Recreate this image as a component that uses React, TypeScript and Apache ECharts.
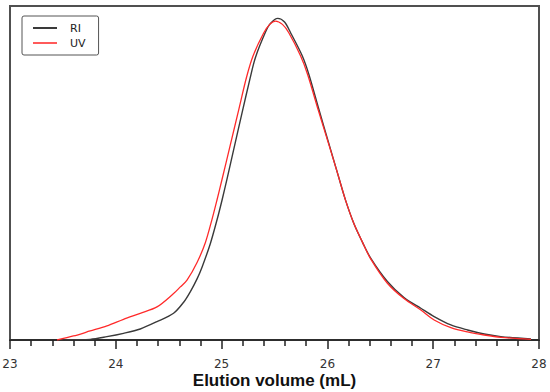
import React, { useEffect, useRef } from "react";
import * as echarts from "echarts";

const riVolume = [
  23.445, 23.616, 23.758, 23.916, 24.073, 24.231, 24.389, 24.546, 24.641, 24.705,
  24.768, 24.815, 24.894, 24.957, 25.005, 25.052, 25.112, 25.197, 25.268, 25.320,
  25.415, 25.462, 25.531, 25.595, 25.652, 25.762, 25.825, 25.920, 26.014, 26.097,
  26.172, 26.251, 26.331, 26.409, 26.567, 26.724, 26.883, 27.009, 27.167, 27.325,
  27.482, 27.640, 27.924,
];
const riSignal = [
  0.0, 0.001, 0.002, 0.010, 0.020, 0.033, 0.055, 0.080, 0.113, 0.145,
  0.183, 0.218, 0.289, 0.360, 0.420, 0.483, 0.567, 0.685, 0.782, 0.846,
  0.922, 0.948, 0.963, 0.952, 0.920, 0.851, 0.795, 0.690, 0.588, 0.498,
  0.418, 0.348, 0.293, 0.245, 0.175, 0.127, 0.095, 0.070, 0.045, 0.030,
  0.018, 0.010, 0.003,
];

const uvVolume = [
  23.445, 23.599, 23.758, 23.916, 24.073, 24.231, 24.389, 24.546, 24.610, 24.673,
  24.768, 24.847, 24.910, 24.957, 25.005, 25.083, 25.164, 25.235, 25.298, 25.399,
  25.455, 25.509, 25.575, 25.635, 25.746, 25.813, 25.912, 26.011, 26.097, 26.172,
  26.251, 26.331, 26.409, 26.567, 26.724, 26.883, 27.009, 27.167, 27.325, 27.482,
  27.640, 27.924,
];
const uvSignal = [
  0.0, 0.012, 0.027, 0.042, 0.062, 0.080, 0.099, 0.139, 0.159, 0.179,
  0.232, 0.292, 0.362, 0.420, 0.482, 0.585, 0.692, 0.786, 0.851, 0.920,
  0.945, 0.955, 0.945, 0.920, 0.851, 0.795, 0.690, 0.588, 0.498, 0.418,
  0.348, 0.293, 0.243, 0.170, 0.124, 0.090, 0.060, 0.037, 0.024, 0.015,
  0.008, 0.002,
];

const seriesNames = ["RI", "UV"];
const xTickLabels = ["23", "24", "25", "26", "27", "28"];

export default function App() {
  const ref = useRef<HTMLDivElement>(null);

  useEffect(() => {
    if (!ref.current) return;
    const chart = echarts.init(ref.current, undefined, { renderer: "svg" });
    const pair = (xs: number[], ys: number[]) => xs.map((x, i) => [x, ys[i]]);
    const frameLine = { show: true, onZero: false, lineStyle: { color: "#505050", width: 2 } };
    chart.setOption({
      animation: false,
      backgroundColor: "#ffffff",
      grid: {
        left: 10,
        right: 11,
        top: 6,
        bottom: 52,
        containLabel: false,
        outerBoundsMode: "none",
        show: true,
        borderColor: "#505050",
        borderWidth: 2,
        backgroundColor: "transparent",
      },
      legend: {
        data: seriesNames,
        orient: "vertical",
        left: 22,
        top: 16,
        icon: "rect",
        itemWidth: 24,
        itemHeight: 2,
        itemGap: 3,
        padding: [6, 13, 6, 11],
        borderColor: "#555555",
        borderWidth: 1,
        borderRadius: 2,
        backgroundColor: "#ffffff",
        textStyle: {
          fontFamily: "DejaVu Sans",
          fontSize: 11,
          color: "#222222",
          lineHeight: 12,
          padding: [0, 0, 0, 8],
        },
      },
      xAxis: [
        {
          type: "value",
          position: "bottom",
          min: 23,
          max: 28,
          interval: 1,
          name: "Elution volume (mL)",
          nameLocation: "middle",
          nameGap: 31,
          nameMoveOverlap: false,
          nameTextStyle: {
            fontFamily: "Liberation Sans",
            fontWeight: "bold",
            fontSize: 17,
            color: "#111111",
            verticalAlign: "top",
            lineHeight: 18,
          },
          axisLine: { show: true, onZero: false, lineStyle: { color: "#222222", width: 1.5 } },
          axisTick: { show: true, length: 9, lineStyle: { color: "#222222", width: 1.5 } },
          minorTick: { show: true, splitNumber: 5, length: 6, lineStyle: { color: "#222222", width: 1.5 } },
          splitLine: { show: false },
          axisLabel: {
            margin: 18,
            fontFamily: "DejaVu Sans",
            fontSize: 12,
            color: "#333333",
            formatter: (v: number) => xTickLabels[Math.round(v - 23)] ?? "",
          },
        },
        {
          type: "value",
          position: "top",
          min: 23,
          max: 28,
          axisLine: frameLine,
          axisTick: { show: false },
          axisLabel: { show: false },
          splitLine: { show: false },
        },
      ],
      yAxis: [
        {
          type: "value",
          position: "left",
          min: 0,
          max: 1,
          axisLine: frameLine,
          axisTick: { show: false },
          axisLabel: { show: false },
          splitLine: { show: false },
        },
        {
          type: "value",
          position: "right",
          min: 0,
          max: 1,
          axisLine: frameLine,
          axisTick: { show: false },
          axisLabel: { show: false },
          splitLine: { show: false },
        },
      ],
      series: [
        {
          name: seriesNames[0],
          type: "line",
          data: pair(riVolume, riSignal),
          smooth: 0.3,
          showSymbol: false,
          symbol: "none",
          lineStyle: { color: "#3a3a3a", width: 1.4 },
          itemStyle: { color: "#3a3a3a" },
        },
        {
          name: seriesNames[1],
          type: "line",
          data: pair(uvVolume, uvSignal),
          smooth: 0.3,
          showSymbol: false,
          symbol: "none",
          lineStyle: { color: "#ff2a2a", width: 1.3 },
          itemStyle: { color: "#ff5a5a" },
        },
      ],
    });
    return () => chart.dispose();
  }, []);

  return (
    <div
      ref={ref}
      style={{ position: "fixed", left: 0, top: 0, width: 550, height: 392, background: "#fff" }}
    />
  );
}
